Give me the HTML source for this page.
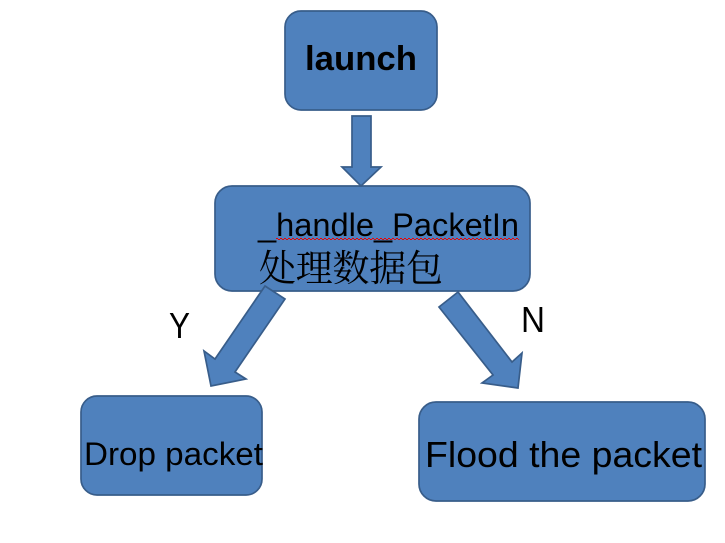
<!DOCTYPE html>
<html>
<head>
<meta charset="utf-8">
<style>
html,body{margin:0;padding:0;background:#fff;width:725px;height:543px;overflow:hidden}
svg{display:block}
text{font-family:"Liberation Sans","Noto Sans CJK SC",sans-serif;fill:#000}
</style>
</head>
<body>
<svg width="725" height="543" viewBox="0 0 725 543" xmlns="http://www.w3.org/2000/svg">
<g fill="#4f81bd" stroke="#385d8a" stroke-width="1.7" stroke-linejoin="miter">
<rect x="285" y="11" width="152" height="99" rx="16"/>
<rect x="215" y="186" width="315" height="105" rx="17"/>
<rect x="81" y="396" width="181" height="99" rx="16"/>
<rect x="419" y="402" width="286" height="99" rx="17"/>
<polygon points="352,116 371,116 371,167 381,167 361,186 342,167 352,167"/>
<polygon points="265,286 285,299 235,372 246,379 211,386 204,351 215,359"/>
<polygon points="458,292 439,307 493,375 482,383 518,388 522,353 512,362"/>
</g>
<text x="305" y="70" font-size="34" font-weight="bold" textLength="112" lengthAdjust="spacingAndGlyphs">launch</text>
<text x="258" y="236" font-size="32" textLength="261" lengthAdjust="spacingAndGlyphs">_handle_PacketIn</text>
<line x1="276" y1="238.500" x2="519" y2="238.500" stroke="#ee0000" stroke-width="1" stroke-dasharray="2 2"/>
<line x1="278" y1="239.500" x2="519" y2="239.500" stroke="#ffffff" stroke-width="1" stroke-dasharray="2 2"/>
<line x1="276" y1="239.500" x2="519" y2="239.500" stroke="#ee0000" stroke-width="1" stroke-dasharray="2 2" stroke-dashoffset="2"/>
<text x="259" y="281" font-size="37" textLength="184" style="font-family:'Noto Serif CJK SC','WenQuanYi Zen Hei',serif">处理数据包</text>
<text x="84" y="465" font-size="32" textLength="179" lengthAdjust="spacingAndGlyphs">Drop packet</text>
<text x="425" y="467" font-size="36" textLength="277" lengthAdjust="spacingAndGlyphs">Flood the packet</text>
<text x="169" y="338" font-size="36" textLength="21" lengthAdjust="spacingAndGlyphs">Y</text>
<text x="521" y="332" font-size="36" textLength="24" lengthAdjust="spacingAndGlyphs">N</text>
</svg>
</body>
</html>
